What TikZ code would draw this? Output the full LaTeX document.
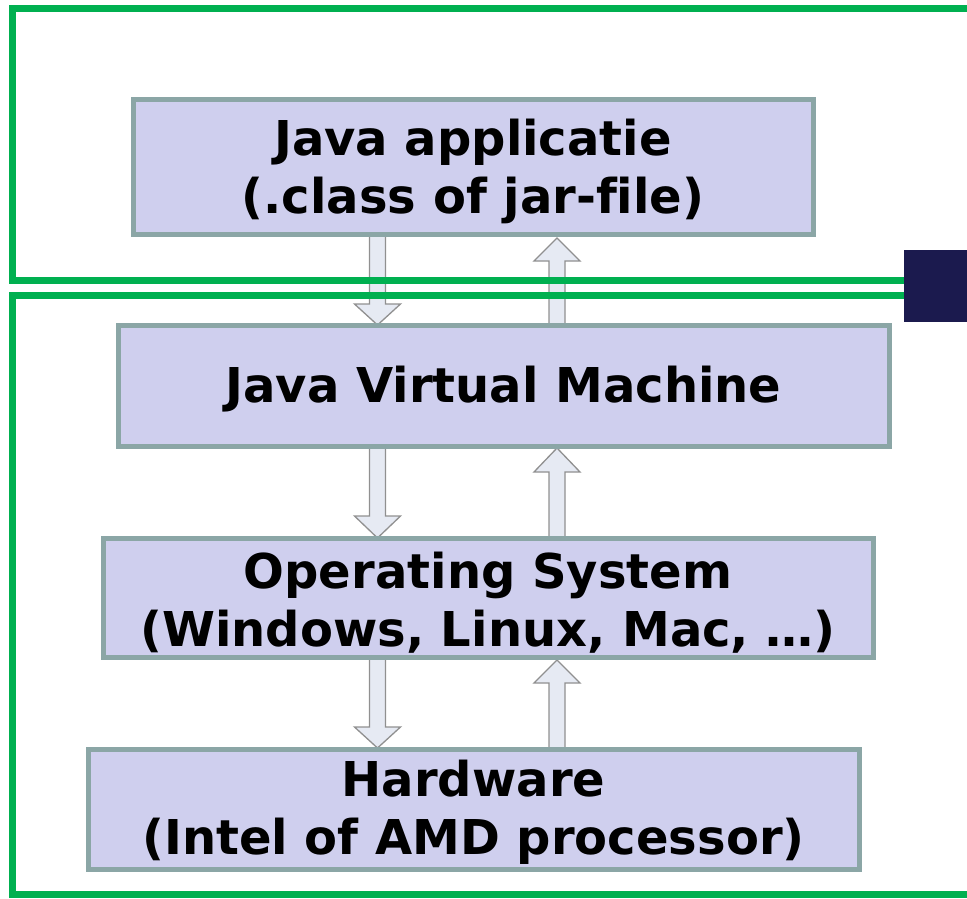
\documentclass[tikz,border=0pt]{standalone}
\usepackage{fontspec}
\setmainfont{DejaVu Sans}[Ligatures=NoCommon]
\definecolor{framegreen}{HTML}{00B050}
\definecolor{boxfill}{HTML}{CFCFEE}
\definecolor{boxline}{HTML}{8BA6A6}
\definecolor{navybox}{HTML}{1B1A4E}
\definecolor{arrowfill}{HTML}{E6EAF3}
\definecolor{arrowline}{HTML}{909090}
\tikzset{
  layerbox/.style={draw=boxline, fill=boxfill, line width=5pt, inner sep=0pt},
  layertext/.style={inner sep=0pt, align=center,
    font=\fontsize{48}{58}\selectfont\bfseries, text=black},
  greenframe/.style={draw=framegreen, line width=7pt},
  blockarrow/.style={draw=arrowline, fill=arrowfill, line width=1.3pt, line join=miter},
}
% #1 centre x, #2 tail y, #3 head-base y, #4 tip y
\newcommand\myblockarrow[4]{%
  \path[blockarrow] (#1-8,#2) -- (#1-8,#3) -- (#1-23,#3) -- (#1,#4) -- (#1+23,#3) -- (#1+8,#3) -- (#1+8,#2) -- cycle;}
\begin{document}
\begin{tikzpicture}[x=1pt,y=-1pt]
\useasboundingbox (0,0) rectangle (967,898);
% arrows (behind boxes and frames)
\myblockarrow{377.5}{232}{304}{325}
\myblockarrow{557}{330}{261}{238}
\myblockarrow{377.5}{444}{516}{538}
\myblockarrow{557}{540}{472}{448}
\myblockarrow{377.5}{655}{727}{748}
\myblockarrow{557}{752}{683}{660}
% boxes
\node[layerbox, minimum width=680pt, minimum height=135pt] (app) at (473,166.5) {};
\node[layerbox, minimum width=771pt, minimum height=121pt] (jvm) at (503.5,385.5) {};
\node[layerbox, minimum width=770pt, minimum height=119pt] (os) at (488,597.5) {};
\node[layerbox, minimum width=771pt, minimum height=120pt] (hw) at (473.5,809) {};
% texts
\node[layertext] (apptxt) at ([yshift=-5pt]app.center) {Java applicatie\\(.class of jar-file)};
\node[layertext] (jvmtxt) at ([yshift=-4pt]jvm.center) {Java Virtual Machine};
\node[layertext] (ostxt) at ([yshift=-5pt]os.center) {Operating System\\(Windows, Linux, Mac, …)};
\node[layertext] (hwtxt) at ([yshift=-3pt]hw.center) {Hardware\\(Intel of AMD processor)};
% green frames
\draw[greenframe] (967,8) -- (12,8) -- (12,280) -- (906,280);
\draw[greenframe] (906,295.5) -- (12,295.5) -- (12,894) -- (967,894);
% dark square
\fill[navybox] (904,250) rectangle (967,322);
\end{tikzpicture}
\end{document}
